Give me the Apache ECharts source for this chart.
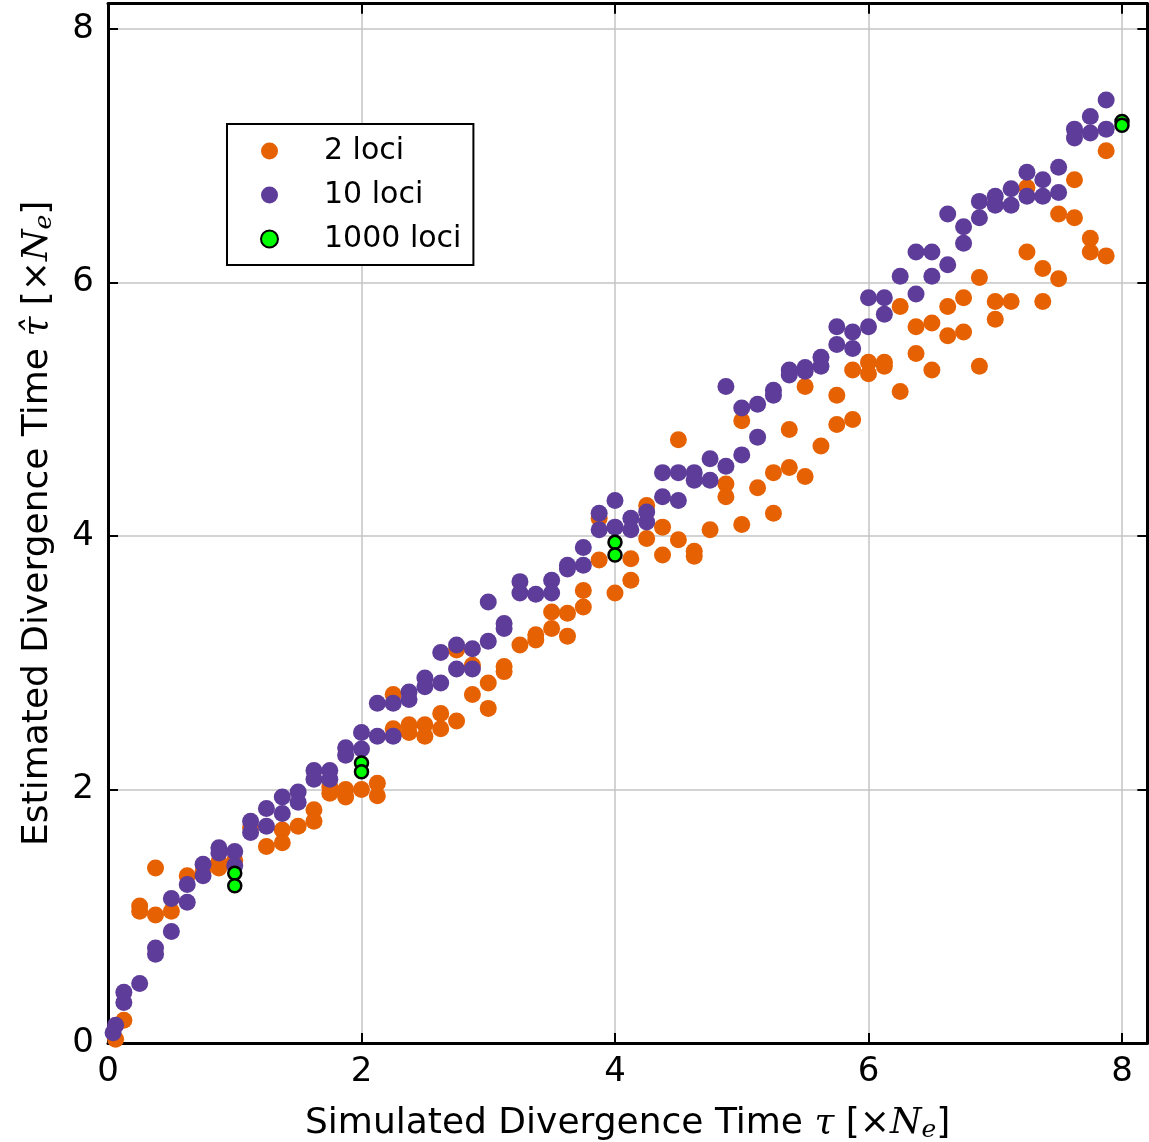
<!DOCTYPE html>
<html>
<head>
<meta charset="utf-8">
<script src="https://cdn.jsdelivr.net/npm/echarts@6/dist/echarts.min.js"></script>
<style>
  html, body { margin: 0; padding: 0; background: #fff; }
  #chart { width: 1149px; height: 1142px; }
</style>
</head>
<body>
<div id="chart"></div>
<script>
// Estimated vs simulated divergence time, three amounts of sequence data.
const seriesNames = ['2 loci', '10 loci', '1000 loci'];
const seriesColors = ['#e66101', '#5e3c99', '#00ff00'];

// [simulated tau, estimated tau-hat]
const twoLoci = [
  [0.06,0.03],[0.125,0.18],
  [0.25,1.08],[0.25,1.04],[0.375,1.38],[0.375,1.01],[0.5,1.04],[0.625,1.32],
  [0.75,1.35],[0.875,1.43],[0.875,1.38],[1.0,1.44],[1.125,1.70],[1.25,1.55],
  [1.375,1.68],[1.375,1.58],[1.5,1.71],[1.625,1.84],[1.625,1.75],
  [1.75,2.02],[1.75,1.97],[1.875,2.00],[1.875,1.94],[2.0,2.00],
  [2.125,2.05],[2.125,1.95],[2.25,2.75],[2.25,2.48],[2.375,2.51],[2.375,2.45],
  [2.5,2.51],[2.5,2.42],[2.625,2.60],[2.625,2.48],[2.75,2.54],[2.75,3.10],
  [2.875,2.75],[2.875,2.98],[3.0,2.84],[3.0,2.64],[3.125,2.97],[3.125,2.93],
  [3.25,3.14],[3.375,3.18],[3.375,3.22],[3.5,3.40],[3.5,3.27],
  [3.625,3.39],[3.625,3.21],[3.75,3.57],[3.75,3.44],[3.875,3.81],[3.875,4.14],
  [4.0,3.55],[4.125,3.82],[4.125,3.65],[4.25,4.24],[4.25,3.98],
  [4.375,4.07],[4.375,3.85],[4.5,4.76],[4.5,3.97],[4.625,3.88],[4.625,3.84],
  [4.75,4.05],[4.875,4.41],[4.875,4.31],[5.0,4.91],[5.0,4.09],[5.125,4.38],
  [5.25,4.50],[5.25,4.18],[5.375,4.54],[5.375,4.84],[5.5,4.47],[5.5,5.18],
  [5.625,4.71],[5.75,5.11],[5.75,4.88],[5.875,5.31],[5.875,4.92],
  [6.0,5.37],[6.0,5.28],[6.125,5.37],[6.125,5.34],[6.25,5.81],[6.25,5.14],
  [6.375,5.65],[6.375,5.44],[6.5,5.68],[6.5,5.31],[6.625,5.81],[6.625,5.58],
  [6.75,5.88],[6.75,5.61],[6.875,6.04],[6.875,5.34],[7.0,5.85],[7.0,5.71],
  [7.125,5.85],[7.25,6.75],[7.25,6.24],[7.375,6.11],[7.375,5.85],
  [7.5,6.54],[7.5,6.03],[7.625,6.81],[7.625,6.51],[7.75,6.35],[7.75,6.24],
  [7.875,7.04],[7.875,6.21]
];

const tenLoci = [
  [0.04,0.08],[0.06,0.14],[0.125,0.40],[0.125,0.32],[0.25,0.47],
  [0.375,0.75],[0.375,0.70],[0.5,1.14],[0.5,0.88],[0.625,1.25],[0.625,1.11],
  [0.75,1.41],[0.75,1.32],[0.875,1.54],[0.875,1.50],[1.0,1.51],[1.0,1.40],
  [1.125,1.75],[1.125,1.66],[1.25,1.85],[1.25,1.71],[1.375,1.94],[1.375,1.81],
  [1.5,1.98],[1.5,1.90],[1.625,2.15],[1.625,2.08],[1.75,2.15],[1.75,2.08],
  [1.875,2.33],[1.875,2.27],[2.0,2.45],[2.0,2.32],[2.125,2.68],[2.125,2.42],
  [2.25,2.68],[2.25,2.42],[2.375,2.77],[2.375,2.71],[2.5,2.88],[2.5,2.81],
  [2.625,3.08],[2.625,2.84],[2.75,3.14],[2.75,2.95],[2.875,3.11],[2.875,2.95],
  [3.0,3.48],[3.0,3.17],[3.125,3.31],[3.125,3.27],[3.25,3.64],[3.25,3.55],
  [3.375,3.54],[3.5,3.65],[3.5,3.55],[3.625,3.77],[3.625,3.74],
  [3.75,3.91],[3.75,3.77],[3.875,4.18],[3.875,4.05],[4.0,4.28],[4.0,4.07],
  [4.125,4.14],[4.125,4.05],[4.25,4.19],[4.25,4.11],[4.375,4.50],[4.375,4.31],
  [4.5,4.50],[4.5,4.28],[4.625,4.50],[4.625,4.44],[4.75,4.61],[4.75,4.44],
  [4.875,5.18],[4.875,4.55],[5.0,5.01],[5.0,4.64],[5.125,5.04],[5.125,4.78],
  [5.25,5.15],[5.25,5.11],[5.375,5.31],[5.375,5.27],[5.5,5.33],[5.5,5.30],
  [5.625,5.41],[5.625,5.34],[5.75,5.65],[5.75,5.51],[5.875,5.61],[5.875,5.48],
  [6.0,5.88],[6.0,5.65],[6.125,5.88],[6.125,5.75],[6.25,6.05],
  [6.375,6.24],[6.375,5.91],[6.5,6.24],[6.5,6.05],[6.625,6.54],[6.625,6.14],
  [6.75,6.44],[6.75,6.31],[6.875,6.64],[6.875,6.51],[7.0,6.68],[7.0,6.61],
  [7.125,6.74],[7.125,6.61],[7.25,6.87],[7.25,6.68],[7.375,6.81],[7.375,6.68],
  [7.5,6.91],[7.5,6.71],[7.625,7.21],[7.625,7.14],[7.75,7.31],[7.75,7.18],
  [7.875,7.44],[7.875,7.21]
];

const thousandLoci = [
  [1,1.34],[1,1.24],[2,2.21],[2,2.14],[4,3.95],[4,3.85],[8,7.27],[8,7.24]
];

const axisMin = 0;
const axisMax = 8.2;
const tickStep = 2;

const SANS = 'DejaVu Sans';
const SERIF = 'DejaVu Serif';

const titleRich = {
  a: { fontSize: 36, fontFamily: SANS, color: '#000' },
  m: { fontSize: 36, fontFamily: SERIF, fontStyle: 'italic', color: '#000' },
  s: { fontSize: 25, fontFamily: SERIF, fontStyle: 'italic', color: '#000', padding: [14, 0, 0, 0] }
};

const xTitle = '{a|Simulated Divergence Time }{m|τ}{a| [×}{m|N}{s|e}{a|]}';
const yTitle = '{a|Estimated Divergence Time }{m|τ̂}{a| [×}{m|N}{s|e}{a|]}';

function evenLabel(v) {
  return Math.abs(v / tickStep - Math.round(v / tickStep)) < 1e-9 ? String(Math.round(v)) : '';
}

function frameAxis(position, withLabels) {
  return {
    type: 'value',
    position: position,
    min: axisMin,
    max: axisMax,
    interval: tickStep,
    axisLine: { show: true, onZero: false, lineStyle: { color: '#000', width: 3 } },
    axisTick: { show: true, inside: true, length: 10, lineStyle: { color: '#000', width: 2 } },
    axisLabel: {
      show: withLabels, fontSize: 34, fontFamily: SANS, color: '#000',
      margin: position === 'bottom' ? 12 : 14,
      formatter: evenLabel
    },
    splitLine: { show: withLabels, lineStyle: { color: '#c4c4c4', width: 1.5 } }
  };
}

const xMain = Object.assign(frameAxis('bottom', true), {
  name: xTitle, nameLocation: 'middle', nameGap: 61,
  nameTextStyle: { rich: titleRich }
});
const yMain = Object.assign(frameAxis('left', true), {
  name: yTitle, nameLocation: 'middle', nameGap: 51, nameRotate: 90,
  nameTextStyle: { rich: titleRich }
});

function scatter(idx, data, size, border) {
  return {
    name: seriesNames[idx],
    type: 'scatter',
    data: data,
    symbol: 'circle',
    symbolSize: size,
    clip: true,
    itemStyle: Object.assign({ color: seriesColors[idx], opacity: 1 }, border || {}),
    emphasis: { disabled: true }
  };
}

const chart = echarts.init(document.getElementById('chart'), null, { renderer: 'canvas' });
chart.setOption({
  animation: false,
  backgroundColor: '#fff',
  textStyle: { fontFamily: SANS },
  grid: {
    left: 108, right: 1.65, top: 3.65, bottom: 99,
    containLabel: false, outerBoundsMode: 'none'
  },
  xAxis: [xMain, frameAxis('top', false)],
  yAxis: [yMain, frameAxis('right', false)],
  legend: {
    orient: 'vertical',
    left: 227,
    top: 124,
    padding: [12, 12, 11, 33],
    itemGap: 14,
    itemWidth: 17,
    itemHeight: 17,
    borderColor: '#000',
    borderWidth: 2,
    borderRadius: 0,
    backgroundColor: '#fff',
    selectedMode: false,
    textStyle: { fontSize: 30, fontFamily: SANS, color: '#000', lineHeight: 30, padding: [0, 0, 0, 41] },
    data: seriesNames.map(n => ({ name: n, icon: 'circle' }))
  },
  series: [
    scatter(0, twoLoci, 17),
    scatter(1, tenLoci, 17),
    scatter(2, thousandLoci, 13, { borderColor: '#000', borderWidth: 2.5 })
  ]
});
</script>
</body>
</html>
